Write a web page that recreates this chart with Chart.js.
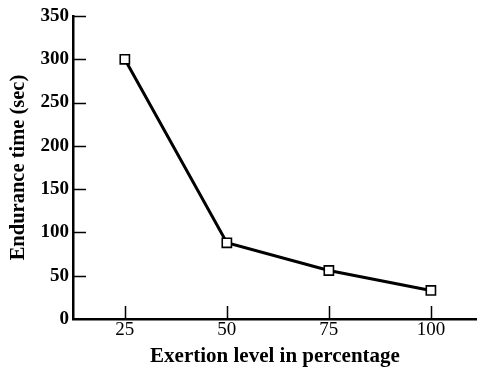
<!DOCTYPE html>
<html>
<head>
<meta charset="utf-8">
<script src="https://cdn.jsdelivr.net/npm/chart.js@4.4.0/dist/chart.umd.min.js"></script>
<style>
  html, body { margin: 0; padding: 0; background: #fff; }
  canvas { display: block; }
</style>
</head>
<body>
<canvas id="chart" width="477" height="371"></canvas>
<script>
/* ── data ── */
const exertion = [25, 50, 75, 100];
const endurance = [300, 88, 56, 33];
const xTicks = [25, 50, 75, 100];
const yTicks = [0, 50, 100, 150, 200, 250, 300, 350];

const serif = '"Liberation Serif", "DejaVu Serif", serif';

/* ticks drawn inward, like the original plot */
const innerTicks = {
  id: 'innerTicks',
  afterDraw(chart) {
    const ctx = chart.ctx;
    const x = chart.scales.x, y = chart.scales.y;
    const len = 13;
    ctx.save();
    ctx.strokeStyle = '#000';
    ctx.lineWidth = 1.5;
    ctx.beginPath();
    y.ticks.forEach((t, i) => {
      if (t.value === 0) return;
      const py = Math.round(y.getPixelForTick(i)) + 0.5;
      ctx.moveTo(x.left, py);
      ctx.lineTo(x.left + len, py);
    });
    x.ticks.forEach((t, i) => {
      const px = Math.round(x.getPixelForTick(i)) + 0.5;
      ctx.moveTo(px, y.bottom);
      ctx.lineTo(px, y.bottom - len);
    });
    ctx.stroke();
    ctx.restore();
  }
};

new Chart(document.getElementById('chart'), {
  type: 'line',
  data: {
    datasets: [{
      data: exertion.map((v, i) => ({ x: v, y: endurance[i] })),
      borderColor: '#000',
      borderWidth: 3,
      pointStyle: 'rect',
      pointRadius: 6.5,
      pointBorderWidth: 1.6,
      pointBackgroundColor: '#fff',
      pointBorderColor: '#000',
      tension: 0,
      clip: false
    }]
  },
  options: {
    responsive: false,
    animation: false,
    layout: { autoPadding: false, padding: { top: 16, right: 0, bottom: 2, left: 0 } },
    plugins: { legend: { display: false }, tooltip: { enabled: false } },
    scales: {
      x: {
        type: 'linear',
        min: 12.3,
        max: 111.3,
        afterBuildTicks: s => { s.ticks = xTicks.map(v => ({ value: v })); },
        afterFit: s => { s.height = 50; },
        grid: { display: false, drawTicks: false },
        border: { display: true, color: '#000', width: 2.5 },
        ticks: {
          color: '#000',
          padding: 0,
          maxRotation: 0,
          font: { family: serif, size: 19 }
        },
        title: {
          display: true,
          text: 'Exertion level in percentage',
          color: '#000',
          padding: { top: 0, bottom: 0 },
          font: { family: serif, size: 21, weight: 'bold' }
        }
      },
      y: {
        min: 0,
        max: 350,
        afterBuildTicks: s => { s.ticks = yTicks.map(v => ({ value: v })); },
        afterFit: s => { s.width = 73; },
        grid: { display: false, drawTicks: false },
        border: { display: true, color: '#000', width: 2.5 },
        ticks: {
          color: '#000',
          padding: 4,
          font: { family: serif, size: 19, weight: 'bold' }
        },
        title: {
          display: true,
          text: 'Endurance time (sec)',
          color: '#000',
          padding: { top: 6, bottom: 0 },
          font: { family: serif, size: 20.5, weight: 'bold' }
        }
      }
    }
  },
  plugins: [innerTicks]
});
</script>
</body>
</html>
